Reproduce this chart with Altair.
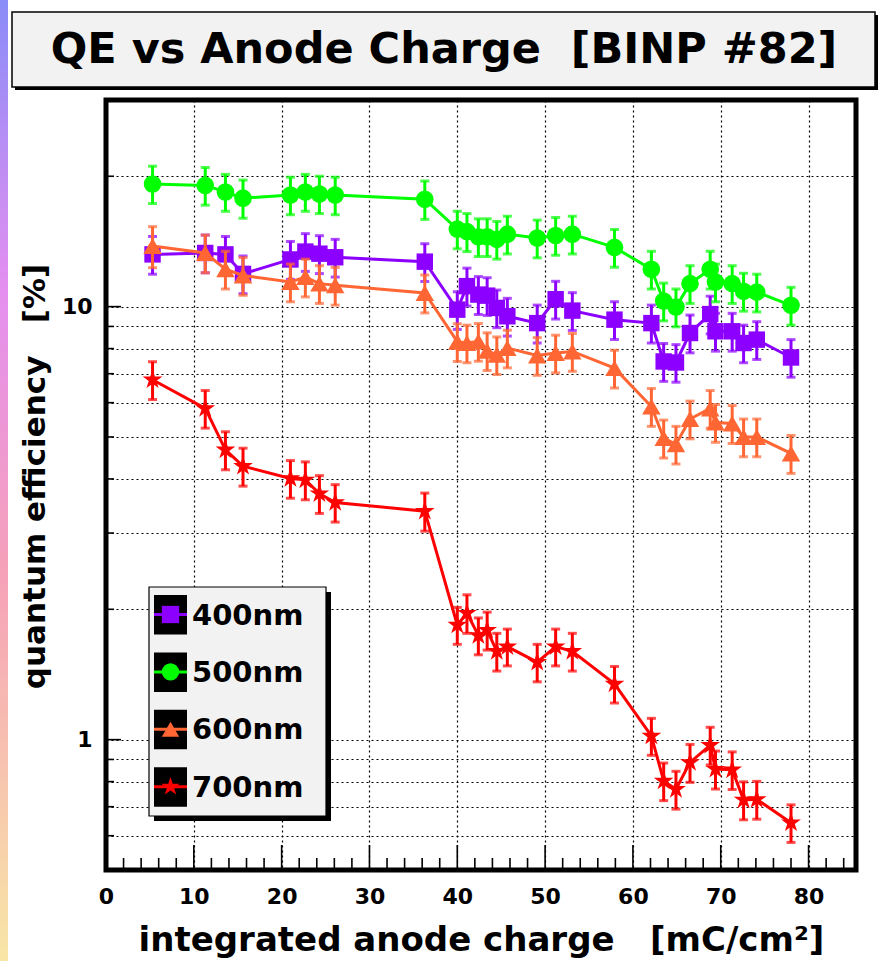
import altair as alt
import pandas as pd

# ---------------- data ----------------
charge = [5.3, 11.3, 13.6, 15.6, 21.0, 22.7, 24.3, 26.1, 36.3, 40.0, 41.1, 42.4, 43.4, 44.5,
          45.7, 49.1, 51.2, 53.1, 57.9, 62.1, 63.5, 64.9, 66.5, 68.8, 69.4, 71.3, 72.6, 74.1, 78.0]

qe_400 = [13.2, 13.3, 13.2, 11.9, 12.85, 13.4, 13.25, 13.0, 12.7, 9.84, 11.15, 10.66, 10.6, 9.93,
          9.5, 9.16, 10.4, 9.79, 9.33, 9.16, 7.47, 7.43, 8.69, 9.61, 8.77, 8.77, 8.24, 8.39, 7.63]
err_400 = [1.32, 1.33, 1.32, 1.19, 1.29, 1.34, 1.33, 1.3, 1.27, 0.98, 1.12, 1.07, 1.06, 0.99,
           0.95, 0.92, 1.04, 0.98, 0.93, 0.92, 0.75, 0.74, 0.87, 0.96, 0.88, 0.88, 0.82, 0.84, 0.76]

qe_500 = [19.2, 19.05, 18.4, 17.8, 18.1, 18.4, 18.2, 18.1, 17.7, 15.1, 14.9, 14.5, 14.5, 14.3,
          14.7, 14.4, 14.6, 14.7, 13.7, 12.2, 10.3, 9.98, 11.3, 12.2, 11.4, 11.3, 10.85, 10.8, 10.07]
err_500 = [1.9, 1.9, 1.8, 1.8, 1.8, 1.8, 1.8, 1.8, 1.8, 1.5, 1.5, 1.45, 1.45, 1.43,
           1.47, 1.44, 1.46, 1.47, 1.37, 1.22, 1.03, 1.0, 1.13, 1.22, 1.14, 1.13, 1.09, 1.08, 1.01]

qe_600 = [13.8, 13.3, 12.2, 11.8, 11.4, 11.7, 11.3, 11.2, 10.75, 8.3, 8.24, 8.31, 7.91, 7.74,
          8.02, 7.71, 7.81, 7.88, 7.21, 5.88, 4.97, 4.81, 5.5, 5.82, 5.4, 5.37, 5.0, 5.0, 4.58]
err_600 = [1.5, 1.33, 1.22, 1.18, 1.14, 1.17, 1.13, 1.12, 1.08, 0.83, 0.82, 0.83, 0.79, 0.77,
           0.8, 0.77, 0.78, 0.79, 0.72, 0.59, 0.5, 0.48, 0.55, 0.58, 0.54, 0.54, 0.5, 0.5, 0.46]

qe_700 = [6.78, 5.82, 4.67, 4.28, 4.01, 3.98, 3.70, 3.53, 3.37, 1.84, 1.96, 1.74, 1.79, 1.60,
          1.64, 1.51, 1.64, 1.60, 1.345, 1.02, 0.803, 0.768, 0.886, 0.971, 0.855, 0.852, 0.726, 0.728, 0.643]
err_700 = [0.68, 0.58, 0.47, 0.43, 0.4, 0.4, 0.37, 0.35, 0.34, 0.18, 0.2, 0.17, 0.18, 0.16,
           0.16, 0.15, 0.16, 0.16, 0.13, 0.1, 0.08, 0.077, 0.089, 0.097, 0.086, 0.085, 0.073, 0.073, 0.064]

series_names = ["400nm", "500nm", "600nm", "700nm"]
series_values = [qe_400, qe_500, qe_600, qe_700]
series_errors = [err_400, err_500, err_600, err_700]

x_major_ticks = [0, 10, 20, 30, 40, 50, 60, 70, 80]
x_minor_ticks = [2, 4, 6, 8, 12, 14, 16, 18, 22, 24, 26, 28, 32, 34, 36, 38, 42, 44, 46, 48,
                 52, 54, 56, 58, 62, 64, 66, 68, 72, 74, 76, 78, 82, 84]
y_major_ticks = [1, 10]
y_minor_ticks = [0.6, 0.7, 0.8, 0.9, 2, 3, 4, 5, 6, 7, 8, 9, 20]
y_grid_values = [0.6, 0.7, 0.8, 0.9, 1, 2, 3, 4, 5, 6, 7, 8, 9, 10, 20]

NB = "\u00a0"
title_text = "QE vs Anode Charge" + NB * 2 + "[BINP #82]"
x_title = "integrated anode charge" + NB * 3 + "[mC/cm\u00b2]"
y_title = "quantum efficiency" + NB * 3 + "[%]"

# ---------------- styling ----------------
FONT = "DejaVu Sans"
W, H = 750, 770
colors = ["#8c00ff", "#00ff00", "#ff6633", "#ff0000"]
STAR = ("M0,-1L0.2245,-0.309L0.951,-0.309L0.363,0.118L0.588,0.809L0,0.382"
        "L-0.588,0.809L-0.363,0.118L-0.951,-0.309L-0.2245,-0.309Z")
shapes = ["square", "circle", "triangle-up", STAR]
sizes = [270, 310, 340, 430]
leg_sizes = [300, 300, 300, 380]

xscale = alt.Scale(domain=[0, 85.4], nice=False, zero=False)
yscale = alt.Scale(type="log", domain=[0.5, 30], nice=False)

xaxis = alt.Axis(values=x_major_ticks, grid=True, gridColor="black", gridDash=[2, 3],
                 gridWidth=1.2, gridOpacity=1, domain=False, ticks=False, tickSize=0,
                 labelFont=FONT, labelFontWeight="bold", labelFontSize=22, labelColor="black",
                 labelPadding=16, labelFlush=False, labelBaseline="top",
                 title=x_title, titleFont=FONT, titleFontWeight="bold", titleFontSize=34,
                 titleColor="black", titleX=W / 2, titleY=80, titleBaseline="alphabetic",
                 titleAlign="center", titleAnchor="middle")
yaxis = alt.Axis(values=y_grid_values, grid=True, gridColor="black", gridDash=[2, 3],
                 gridWidth=1.2, gridOpacity=1, domain=False, ticks=False, tickSize=0,
                 labelExpr="(datum.value == 1 || datum.value == 10) ? datum.label : ''",
                 labelFont=FONT, labelFontWeight="bold", labelFontSize=22, labelColor="black",
                 labelPadding=14, labelFlush=False,
                 title=y_title, titleFont=FONT, titleFontWeight="bold", titleFontSize=31,
                 titleColor="black", titleX=-71, titleY=376, titleAngle=-90,
                 titleBaseline="middle", titleAlign="center", titleAnchor="middle")

one = pd.DataFrame({"k": [0]})
layers = []

# left decorative gradient strip
layers.append(alt.Chart(one).mark_rect(
    color=alt.Gradient(gradient="linear", x1=0, x2=0, y1=0, y2=1,
                       stops=[alt.GradientStop(offset=0, color="#8a8cf8"),
                              alt.GradientStop(offset=0.3, color="#e48ff0"),
                              alt.GradientStop(offset=0.6, color="#f6a2b8"),
                              alt.GradientStop(offset=1, color="#f8e6a6")])
).encode(x=alt.value(-106), x2=alt.value(-98), y=alt.value(-100), y2=alt.value(861)))

# title box
layers.append(alt.Chart(one).mark_rect(color="black").encode(
    x=alt.value(-91), x2=alt.value(772), y=alt.value(-85), y2=alt.value(-10)))
layers.append(alt.Chart(one).mark_rect(fill="#f2f2f2", stroke="black", strokeWidth=1.5).encode(
    x=alt.value(-94), x2=alt.value(769), y=alt.value(-88), y2=alt.value(-13)))
layers.append(alt.Chart(one).mark_text(font=FONT, fontWeight="bold", fontSize=43, color="black",
                                       align="center", baseline="middle").encode(
    x=alt.value(338), y=alt.value(-50), text=alt.value(title_text)))

# inward axis ticks
xt_major = pd.DataFrame({"v": x_major_ticks})
xt_minor = pd.DataFrame({"v": x_minor_ticks})
yt_major = pd.DataFrame({"v": y_major_ticks})
yt_minor = pd.DataFrame({"v": y_minor_ticks})
X_t = alt.X("v:Q", scale=xscale, axis=xaxis)
Y_t = alt.Y("v:Q", scale=yscale, axis=yaxis)
layers.append(alt.Chart(xt_major).mark_rule(color="black", strokeWidth=1.6).encode(
    x=X_t, y=alt.value(H), y2=alt.value(H - 25)))
layers.append(alt.Chart(xt_minor).mark_rule(color="black", strokeWidth=1.6).encode(
    x=X_t, y=alt.value(H), y2=alt.value(H - 12)))
layers.append(alt.Chart(yt_major).mark_rule(color="black", strokeWidth=1.6).encode(
    y=Y_t, x=alt.value(0), x2=alt.value(15)))
layers.append(alt.Chart(yt_minor).mark_rule(color="black", strokeWidth=1.6).encode(
    y=Y_t, x=alt.value(0), x2=alt.value(8)))

# data series
X = alt.X("x:Q", scale=xscale, axis=xaxis)
for name, vals, errs, c, shp, sz in zip(series_names, series_values, series_errors,
                                        colors, shapes, sizes):
    df = pd.DataFrame({"x": charge, "y": vals, "e": errs})
    base = alt.Chart(df).transform_calculate(lo="datum.y - datum.e", hi="datum.y + datum.e")
    layers.append(base.mark_line(color=c, strokeWidth=3).encode(
        x=X, y=alt.Y("y:Q", scale=yscale, axis=yaxis)))
    layers.append(base.mark_rule(color=c, strokeWidth=3).encode(
        x=X, y=alt.Y("lo:Q", scale=yscale, axis=yaxis), y2="hi:Q"))
    layers.append(base.mark_tick(color=c, orient="horizontal", size=9, thickness=3).encode(
        x=X, y=alt.Y("lo:Q", scale=yscale, axis=yaxis)))
    layers.append(base.mark_tick(color=c, orient="horizontal", size=9, thickness=3).encode(
        x=X, y=alt.Y("hi:Q", scale=yscale, axis=yaxis)))
    layers.append(base.mark_point(color=c, filled=True, opacity=1, shape=shp, size=sz,
                                  strokeWidth=0).encode(
        x=X, y=alt.Y("y:Q", scale=yscale, axis=yaxis)))

# custom legend
LX0, LX1, LY0, LY1 = 43, 220, 487, 716
layers.append(alt.Chart(one).mark_rect(color="black").encode(
    x=alt.value(LX0 + 5), x2=alt.value(LX1 + 5), y=alt.value(LY0 + 5), y2=alt.value(LY1 + 5)))
layers.append(alt.Chart(one).mark_rect(fill="#f2f2f2", stroke="black", strokeWidth=1.2).encode(
    x=alt.value(LX0), x2=alt.value(LX1), y=alt.value(LY0), y2=alt.value(LY1)))
for i, (name, c, shp, sz) in enumerate(zip(series_names, colors, shapes, leg_sizes)):
    cy = 514.5 + i * 57.4
    layers.append(alt.Chart(one).mark_rect(color="black").encode(
        x=alt.value(48), x2=alt.value(81), y=alt.value(cy - 19.5), y2=alt.value(cy + 20)))
    layers.append(alt.Chart(one).mark_rule(color=c, strokeWidth=3).encode(
        x=alt.value(48), x2=alt.value(81), y=alt.value(cy)))
    layers.append(alt.Chart(one).mark_point(color=c, filled=True, opacity=1, shape=shp,
                                            size=sz, strokeWidth=0).encode(
        x=alt.value(64.5), y=alt.value(cy)))
    layers.append(alt.Chart(one).mark_text(font=FONT, fontWeight="bold", fontSize=29,
                                           color="black", align="left", baseline="middle").encode(
        x=alt.value(86), y=alt.value(cy + 1), text=alt.value(name)))

chart = alt.layer(*layers).properties(
    width=W, height=H,
    autosize=alt.AutoSizeParams(type="none"),
    padding={"left": 106, "top": 100, "right": 26, "bottom": 91},
    background="white",
).configure_view(stroke="black", strokeWidth=5, fill="white")

chart.save("out.html", embed_options={"renderer": "svg", "actions": False})
